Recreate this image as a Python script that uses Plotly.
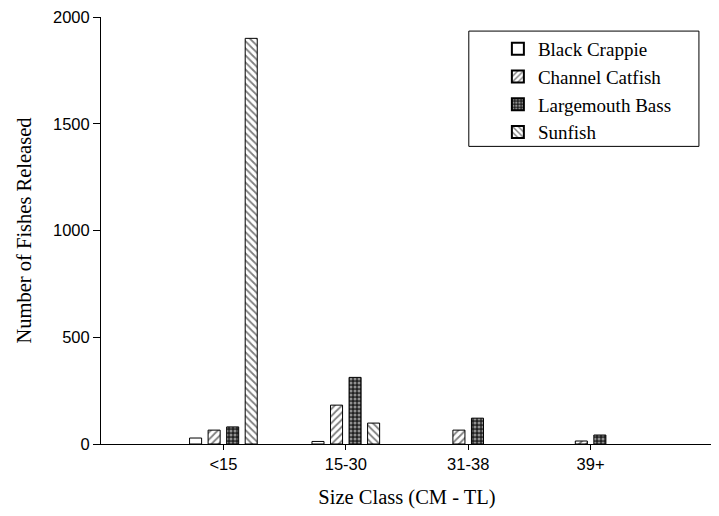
import plotly.graph_objects as go

categories = ["<15", "15-30", "31-38", "39+"]
cat_pos = [1, 2, 3, 4]
black_crappie = [28, 12, None, None]
channel_catfish = [65, 182, 65, 14]
largemouth_bass = [80, 312, 121, 42]
sunfish = [1900, 98, None, None]

series = [
    ("Black Crappie", black_crappie, ""),
    ("Channel Catfish", channel_catfish, "/"),
    ("Largemouth Bass", largemouth_bass, "x"),
    ("Sunfish", sunfish, "\\"),
]

fig = go.Figure()
for name, vals, shape in series:
    pat = dict(shape=shape, fgcolor="black", bgcolor="white", size=5, solidity=0.35)
    if shape == "x":
        pat = dict(shape=".", fgcolor="white", bgcolor="#222222", size=4, solidity=0.45)
    fig.add_trace(go.Bar(
        x=cat_pos, y=vals, name=name,
        marker=dict(color="white", line=dict(color="black", width=1), pattern=pat),
    ))

fig.add_shape(type="rect", xref="paper", yref="paper",
              x0=0.601, x1=0.977, y0=0.697, y1=0.967,
              line=dict(color="black", width=1), fillcolor="rgba(0,0,0,0)", layer="above")

fig.update_layout(
    width=711, height=508,
    margin=dict(l=93, r=6, t=9, b=72, autoexpand=False),
    plot_bgcolor="white", paper_bgcolor="white",
    barmode="group", bargap=0.394, bargroupgap=0.35,
    showlegend=True,
    legend=dict(x=0.6485, y=0.828, xanchor="left", yanchor="middle",
                borderwidth=0, bgcolor="rgba(0,0,0,0)",
                font=dict(family="Liberation Serif", size=19, color="black"),
                tracegroupgap=0, itemsizing="constant"),
    font=dict(family="Liberation Sans", color="black"),
)
fig.update_xaxes(
    range=[0, 5], tickvals=cat_pos, ticktext=categories,
    showline=True, linecolor="black", linewidth=1,
    ticks="outside", ticklen=5, tickcolor="black",
    showgrid=False, zeroline=False, automargin=False,
    ticklabeloverflow="allow",
    tickfont=dict(family="Liberation Sans", size=16.5, color="black"),
    title=dict(text="Size Class (CM - TL)", standoff=17,
               font=dict(family="Liberation Serif", size=20.5, color="black")),
)
fig.update_yaxes(
    range=[0, 2000], tickvals=[0, 500, 1000, 1500, 2000],
    showline=True, linecolor="black", linewidth=1,
    ticks="outside", ticklen=7, tickcolor="black",
    showgrid=False, zeroline=False, automargin=False,
    ticklabeloverflow="allow",
    tickfont=dict(family="Liberation Sans", size=16.5, color="black"),
    title=dict(text="Number of Fishes Released", standoff=15,
               font=dict(family="Liberation Serif", size=20.5, color="black")),
)

fig.write_html("out.html")
